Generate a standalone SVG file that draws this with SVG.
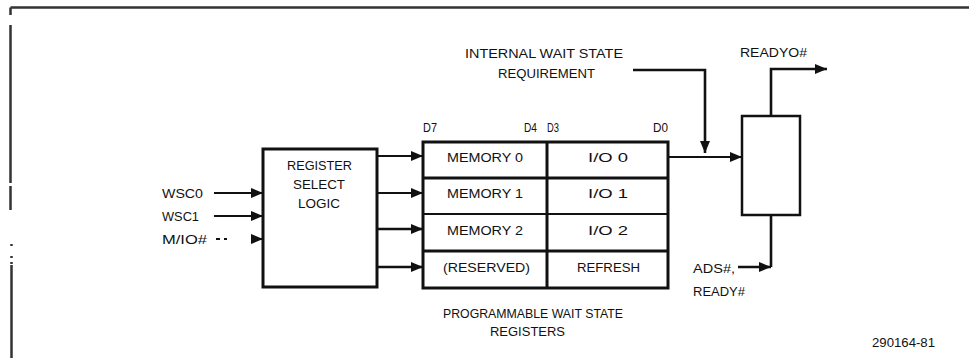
<svg xmlns="http://www.w3.org/2000/svg" width="969" height="358" viewBox="0 0 969 358">
<style>
text{font-family:"Liberation Sans",Arial,sans-serif;font-size:13px;fill:#111}
.frame{fill:none;stroke:#333;stroke-width:2.5}
.box{fill:#fff;stroke:#111;stroke-width:3}
.thin{fill:none;stroke:#111;stroke-width:2}
.thick{fill:none;stroke:#111;stroke-width:3}
.cn{fill:none;stroke:#111;stroke-width:1.8}
.cnb{fill:none;stroke:#111;stroke-width:2.6}
.arr{marker-end:url(#ah)}
</style>
<defs>
<marker id="ah" viewBox="0 0 12 10" refX="12" refY="5" markerWidth="12" markerHeight="10" markerUnits="userSpaceOnUse" orient="auto">
<path d="M0,0 L12,5 L0,10 Z" fill="#111"/>
</marker>
</defs>
<rect width="969" height="358" fill="#fff"/>
<g id="frame">
<path class="frame" d="M10.5,7.5 H969 M10.5,7.5 V15 M10.5,25 V183 M10.5,186 V210 M11.5,265 V358"/>
<path class="frame" d="M11.5,244 V246 M11.5,256 V258 M11.5,262 V264"/>
</g>
<g id="register-select-logic">
<rect class="box" x="263" y="149" width="114" height="138"/>
<text x="287" y="170" textLength="65" lengthAdjust="spacingAndGlyphs">REGISTER</text>
<text x="293" y="189" textLength="52" lengthAdjust="spacingAndGlyphs">SELECT</text>
<text x="298" y="208" textLength="42" lengthAdjust="spacingAndGlyphs">LOGIC</text>
</g>
<g id="input-labels">
<text x="162" y="198" textLength="41" lengthAdjust="spacingAndGlyphs">WSC0</text>
<text x="162" y="221" textLength="37" lengthAdjust="spacingAndGlyphs">WSC1</text>
<text x="162" y="244" textLength="45" lengthAdjust="spacingAndGlyphs">M/IO#</text>
</g>
<g id="wait-state-registers">
<rect class="box" x="423" y="142" width="245" height="146"/>
<path class="thick" d="M423,178 H668 M423,251 H668 M547,142 V288"/>
<path class="thin" d="M423,214 H668"/>
<text x="423" y="132" textLength="14" lengthAdjust="spacingAndGlyphs">D7</text>
<text x="524" y="132" textLength="13" lengthAdjust="spacingAndGlyphs">D4</text>
<text x="547" y="132" textLength="12" lengthAdjust="spacingAndGlyphs">D3</text>
<text x="653" y="132" textLength="15" lengthAdjust="spacingAndGlyphs">D0</text>
<text x="447" y="162" textLength="76" lengthAdjust="spacingAndGlyphs">MEMORY 0</text>
<text x="447" y="198" textLength="76" lengthAdjust="spacingAndGlyphs">MEMORY 1</text>
<text x="447" y="235" textLength="76" lengthAdjust="spacingAndGlyphs">MEMORY 2</text>
<text x="443" y="272" textLength="87" lengthAdjust="spacingAndGlyphs">(RESERVED)</text>
<text x="588" y="162" textLength="40" lengthAdjust="spacingAndGlyphs">I/O 0</text>
<text x="588" y="198" textLength="40" lengthAdjust="spacingAndGlyphs">I/O 1</text>
<text x="588" y="235" textLength="40" lengthAdjust="spacingAndGlyphs">I/O 2</text>
<text x="577" y="272" textLength="63" lengthAdjust="spacingAndGlyphs">REFRESH</text>
<text x="443" y="318" textLength="180" lengthAdjust="spacingAndGlyphs">PROGRAMMABLE WAIT STATE</text>
<text x="490" y="336" textLength="75" lengthAdjust="spacingAndGlyphs">REGISTERS</text>
</g>
<g id="internal-wait-state">
<text x="465" y="58" textLength="158" lengthAdjust="spacingAndGlyphs">INTERNAL WAIT STATE</text>
<text x="498" y="78" textLength="97" lengthAdjust="spacingAndGlyphs">REQUIREMENT</text>
</g>
<g id="ready-logic">
<rect class="box" x="742" y="116" width="58" height="99" style="stroke-width:2.5"/>
</g>
<g id="readyo-label">
<text x="740" y="57" textLength="67" lengthAdjust="spacingAndGlyphs">READYO#</text>
</g>
<g id="ads-ready-label">
<text x="693" y="273" textLength="42" lengthAdjust="spacingAndGlyphs">ADS#,</text>
<text x="693" y="296" textLength="52" lengthAdjust="spacingAndGlyphs">READY#</text>
</g>
<g id="figure-number">
<text x="872" y="347" textLength="63" lengthAdjust="spacingAndGlyphs" style="font-size:12px">290164-81</text>
</g>
<g id="connectors">
<path class="cn arr" d="M214,193 H263"/>
<path class="cn arr" d="M214,216 H263"/>
<path class="cn" d="M216,239 H220 M224,239 H227"/>
<path class="cn arr" d="M251,239 H263"/>
<path class="cn arr" d="M377,156 H423"/>
<path class="cn arr" d="M377,193 H423"/>
<path class="cnb arr" d="M377,229 H423"/>
<path class="cnb arr" d="M377,267 H423"/>
<path class="cn arr" d="M668,157 H742"/>
<path class="cnb arr" d="M633,70 H705 V153"/>
<path class="cnb arr" d="M771,116 V69 H827"/>
<path class="cnb" d="M771,215 V267"/>
<path class="cnb arr" d="M738,267 H771"/>
</g>
</svg>
